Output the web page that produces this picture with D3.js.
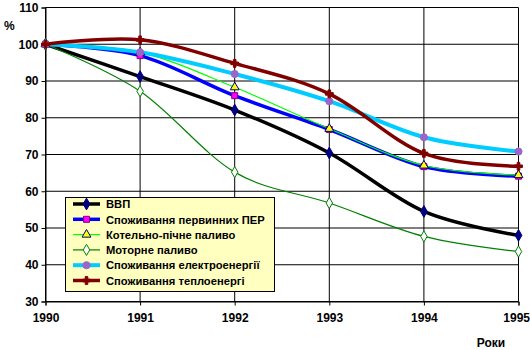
<!DOCTYPE html>
<html><head><meta charset="utf-8">
<script src="https://cdn.jsdelivr.net/npm/d3@7"></script>
<style>body{margin:0;background:#fff}svg{display:block}text{font-family:"Liberation Sans",Arial,sans-serif;font-weight:bold}</style>
</head><body>
<svg id="c" width="530" height="350"></svg>
<script>
const years = [1990, 1991, 1992, 1993, 1994, 1995];
const yTicks = [30, 40, 50, 60, 70, 80, 90, 100, 110];
const seriesNames = ["ВВП", "Споживання первинних ПЕР", "Котельно-пічне паливо", "Моторне паливо", "Споживання електроенергії", "Споживання теплоенергі"];
const vvp = [100, 91.2, 82.1, 70.4, 54.5, 48.0];
const per = [100, 96.9, 86.0, 76.8, 66.7, 64.1];
const kotelno = [100, 97.8, 88.3, 77.0, 67.0, 64.4];
const motorne = [100, 87.2, 65.2, 56.8, 47.7, 43.6];
const elektro = [100, 97.8, 91.9, 84.5, 74.7, 70.8];
const teplo = [100, 101.2, 94.8, 86.5, 70.3, 66.8];
const yLabel = "%";
const xLabel = "Роки";

const styles = [
  {line:"#000000", w:3.5, sym:d3.symbolDiamond, size:40, fill:"#000080", stroke:"#000080"},
  {line:"#0000FF", w:3.5, sym:d3.symbolSquare, size:36, fill:"#FF00FF", stroke:"#800080"},
  {line:"#00FF00", w:1.2, sym:d3.symbolTriangle, size:34, fill:"#FFFF00", stroke:"#000080"},
  {line:"#008000", w:1.2, sym:d3.symbolDiamond, size:36, fill:"#FFFFFF", stroke:"#008000"},
  {line:"#00CCFF", w:4, sym:d3.symbolCircle, size:40, fill:"#9966CC", stroke:"#9966CC"},
  {line:"#800000", w:3.5, sym:d3.symbolCross, size:34, fill:"#800000", stroke:"#800000"}
];
const data = [vvp, per, kotelno, motorne, elektro, teplo];

const svg = d3.select("#c");
const x = d3.scaleLinear().domain([1990, 1995]).range([45.5, 518.5]);
const y = d3.scaleLinear().domain([30, 110]).range([301.5, 7.5]);

// gridlines
svg.append("g").selectAll("line").data(yTicks).join("line")
  .attr("x1", x(1990)).attr("x2", x(1995))
  .attr("y1", d => y(d)).attr("y2", d => y(d))
  .attr("stroke", "#000").attr("stroke-width", 1);
svg.append("g").selectAll("line").data(years).join("line")
  .attr("x1", d => x(d)).attr("x2", d => x(d))
  .attr("y1", y(110)).attr("y2", y(30))
  .attr("stroke", "#000").attr("stroke-width", 1);

// axes
const ya = svg.append("g").attr("transform", `translate(${x(1990)},0)`)
  .call(d3.axisLeft(y).tickValues(yTicks).tickSize(4).tickPadding(3).tickFormat(d3.format("d")));
const xa = svg.append("g").attr("transform", `translate(0,${y(30)})`)
  .call(d3.axisBottom(x).tickValues(years).tickSize(4).tickPadding(8).tickFormat(d3.format("d")));
[ya, xa].forEach(g => {
  g.select(".domain").attr("stroke", "#000");
  g.selectAll(".tick line").attr("stroke", "#000");
  g.selectAll("text").attr("fill", "#000").style("font-size", "12px").style("font-family", "'Liberation Sans',Arial,sans-serif").style("font-weight", "bold");
});
xa.selectAll(".tick text").filter(d => d === 1995).attr("text-anchor", "end").attr("dx", 0).attr("x", 11);

svg.append("text").attr("x", 4).attr("y", 30).attr("font-size", "12px").text(yLabel);
svg.append("text").attr("x", 491).attr("y", 347).attr("text-anchor", "middle").attr("font-size", "12px").text(xLabel);

// lines
const line = d3.line().x((d, i) => x(years[i])).y(d => y(d)).curve(d3.curveCardinal.tension(0));
data.forEach((vals, k) => {
  const s = styles[k];
  svg.append("path").datum(vals).attr("d", line).attr("fill", "none")
    .attr("stroke", s.line).attr("stroke-width", s.w).attr("stroke-linejoin", "round");
});
data.forEach((vals, k) => {
  const s = styles[k];
  svg.append("g").selectAll("path").data(vals).join("path")
    .attr("transform", (d, i) => `translate(${x(years[i])},${y(d)})`)
    .attr("d", d3.symbol().type(s.sym).size(s.size))
    .attr("fill", s.fill).attr("stroke", s.stroke).attr("stroke-width", 1);
});

// legend
const lg = svg.append("g");
lg.append("rect").attr("x", 65.5).attr("y", 197.5).attr("width", 209).attr("height", 94)
  .attr("fill", "#FFFFC0").attr("stroke", "#000").attr("stroke-width", 1);
seriesNames.forEach((n, k) => {
  const s = styles[k];
  const cy = 204 + k * 15.3;
  lg.append("line").attr("x1", 73).attr("x2", 100).attr("y1", cy).attr("y2", cy)
    .attr("stroke", s.line).attr("stroke-width", s.w);
  lg.append("path").attr("transform", `translate(86.5,${cy})`)
    .attr("d", d3.symbol().type(s.sym).size(s.size)).attr("fill", s.fill).attr("stroke", s.stroke);
  lg.append("text").attr("x", 106).attr("y", cy + 4.2).attr("font-size", "11.2px").attr("fill", "#000").text(n);
});
</script>
</body></html>
